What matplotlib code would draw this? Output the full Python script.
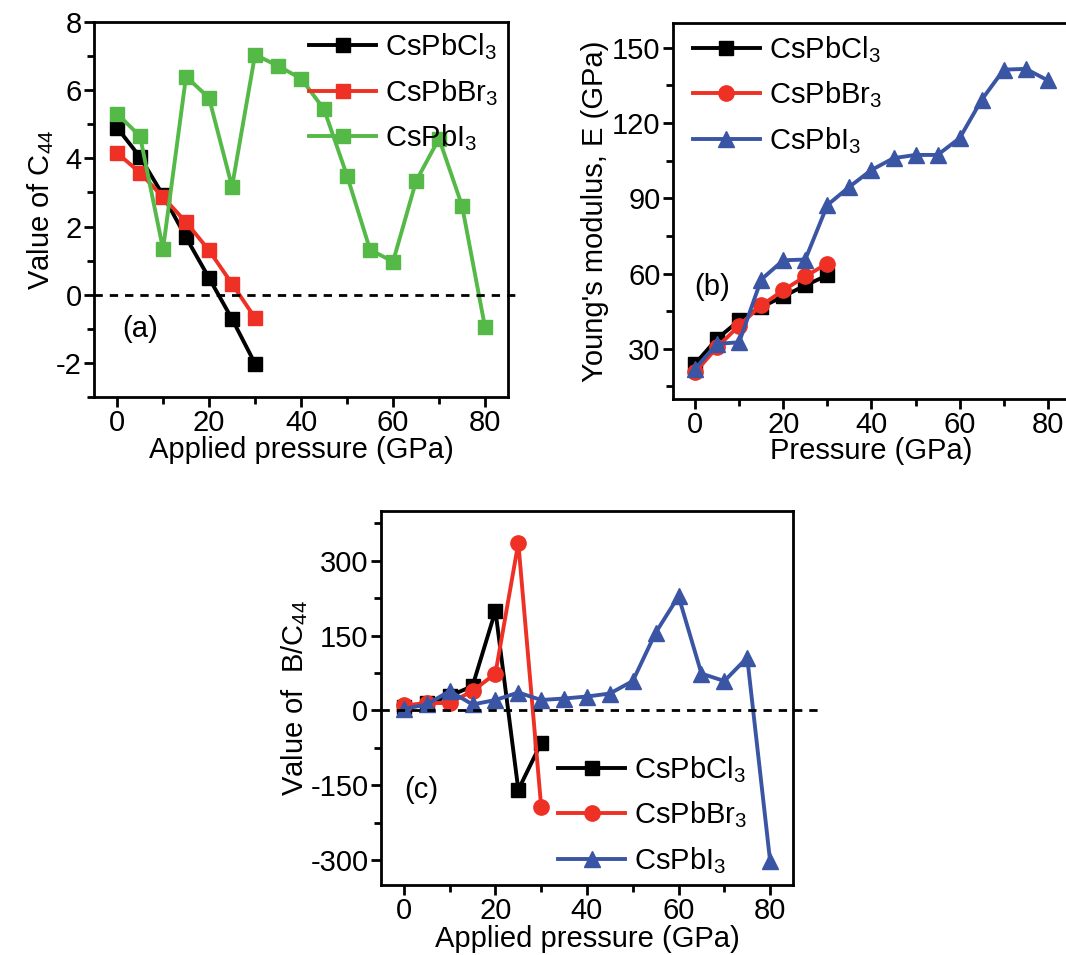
"""Elastic properties of CsPbX3 under pressure, three panels."""

import matplotlib
matplotlib.use('Agg')
import matplotlib.pyplot as plt
from matplotlib.ticker import MultipleLocator

plt.rcParams['font.family'] = ['Liberation Sans', 'DejaVu Sans']
plt.rcParams['mathtext.fontset'] = 'custom'
plt.rcParams['mathtext.rm'] = 'Liberation Sans'
plt.rcParams['mathtext.default'] = 'regular'
plt.rcParams['axes.unicode_minus'] = False
plt.rcParams['font.size'] = 21

# pressure points (GPa)
p_short = [0, 5, 10, 15, 20, 25, 30]
p_long = [0, 5, 10, 15, 20, 25, 30, 35, 40, 45, 50, 55, 60, 65, 70, 75, 80]

# (a) C44
c44_cl = [4.90, 4.04, 2.92, 1.68, 0.49, -0.71, -2.02]
c44_br = [4.16, 3.58, 2.86, 2.13, 1.30, 0.32, -0.68]
c44_i = [5.31, 4.65, 1.34, 6.40, 5.77, 3.17, 7.04, 6.71, 6.34, 5.44, 3.49,
         1.32, 0.97, 3.33, 4.58, 2.61, -0.96]

# (b) Young's modulus
e_cl = [24.0, 34.0, 41.3, 46.6, 50.9, 55.3, 59.3]
e_br = [20.6, 30.6, 39.3, 47.3, 53.3, 58.9, 64.0]
e_i = [22.0, 32.0, 32.6, 57.6, 65.3, 65.6, 87.3, 94.6, 101.3, 106.0, 107.3,
       107.3, 114.0, 129.3, 141.3, 141.6, 137.0]

# (c) B/C44
bc_cl = [7, 14, 29, 49, 200, -159, -65]
bc_br = [10, 15, 15, 39, 74, 336, -194]
bc_i = [3, 12, 39, 12, 21, 36, 21, 24, 28, 34, 59, 156, 229, 74, 59, 106, -302]

names = ['CsPbCl$_3$', 'CsPbBr$_3$', 'CsPbI$_3$']
red = '#ee3124'
green = '#55b947'
blue = '#3b55a5'


def style_axes(ax, xminor, yminor):
    for s in ax.spines.values():
        s.set_linewidth(2)
    ax.tick_params(which='both', direction='out', width=2, top=False,
                   right=False, labelsize=21, pad=2)
    ax.tick_params(which='major', length=7)
    ax.tick_params(which='minor', length=5)
    ax.xaxis.set_major_locator(MultipleLocator(20))
    ax.xaxis.set_minor_locator(MultipleLocator(xminor))
    ax.yaxis.set_minor_locator(MultipleLocator(yminor))


fig = plt.figure(figsize=(10.66, 9.55), dpi=100)

lw = 2.8
ms = 10
dash = dict(color='black', ls=(0, (3, 2.5)), lw=2, clip_on=False)

# panel (a)
ax1 = fig.add_axes([0.0882, 0.5843, 0.3884, 0.3927])
ax1.plot(p_short, c44_cl, '-s', color='black', lw=lw, ms=ms, label=names[0])
ax1.plot(p_short, c44_br, '-s', color=red, lw=lw, ms=ms, label=names[1])
ax1.plot(p_long, c44_i, '-s', color=green, lw=lw, ms=ms, label=names[2])
ax1.axhline(0, xmin=0, xmax=1.03, **dash)
ax1.set_xlim(-5, 85)
ax1.set_ylim(-3, 8)
ax1.yaxis.set_major_locator(MultipleLocator(2))
style_axes(ax1, 10, 1)
ax1.set_xlabel('Applied pressure (GPa)', labelpad=-1)
ax1.set_ylabel('Value of C$_{44}$', labelpad=0)
ax1.text(5, -1.0, '(a)', ha='center', va='center')
ax1.legend(loc='upper left', bbox_to_anchor=(0.52, 0.975), frameon=False,
           borderpad=0, borderaxespad=0, handlelength=2.3, handletextpad=0.3,
           labelspacing=0.5)

# panel (b)
ax2 = fig.add_axes([0.6313, 0.5822, 0.3724, 0.394])
ax2.plot(p_short, e_cl, '-s', color='black', lw=lw, ms=ms, label=names[0])
ax2.plot(p_short, e_br, '-o', color=red, lw=lw, ms=ms + 1, label=names[1])
ax2.plot(p_long, e_i, '-^', color=blue, lw=lw, ms=ms + 2, label=names[2])
ax2.set_xlim(-5, 85)
ax2.set_ylim(10, 160)
ax2.yaxis.set_major_locator(MultipleLocator(30))
style_axes(ax2, 10, 15)
ax2.set_xlabel('Pressure (GPa)', labelpad=-2)
ax2.set_ylabel("Young's modulus, E (GPa)", labelpad=2)
ax2.text(3.9, 54.5, '(b)', ha='center', va='center')
ax2.legend(loc='upper left', bbox_to_anchor=(0.05, 0.97), frameon=False,
           borderpad=0, borderaxespad=0, handlelength=2.3, handletextpad=0.3,
           labelspacing=0.5)

# panel (c)
ax3 = fig.add_axes([0.3574, 0.0733, 0.3865, 0.3916])
ax3.plot(p_short, bc_cl, '-s', color='black', lw=lw, ms=ms, label=names[0])
ax3.plot(p_short, bc_br, '-o', color=red, lw=lw, ms=ms + 1, label=names[1])
ax3.plot(p_long, bc_i, '-^', color=blue, lw=lw, ms=ms + 2, label=names[2])
ax3.axhline(0, xmin=0, xmax=1.06, **dash)
ax3.set_xlim(-5, 85)
ax3.set_ylim(-350, 400)
ax3.yaxis.set_major_locator(MultipleLocator(150))
style_axes(ax3, 10, 75)
ax3.set_xlabel('Applied pressure (GPa)', labelpad=0)
ax3.set_ylabel('Value of  B/C$_{44}$', labelpad=0)
ax3.text(3.7, -159, '(c)', ha='center', va='center')
ax3.legend(loc='upper left', bbox_to_anchor=(0.43, 0.35), frameon=False,
           borderpad=0, borderaxespad=0, handlelength=2.3, handletextpad=0.3,
           labelspacing=0.5)

fig.savefig('out.png', dpi=100)
